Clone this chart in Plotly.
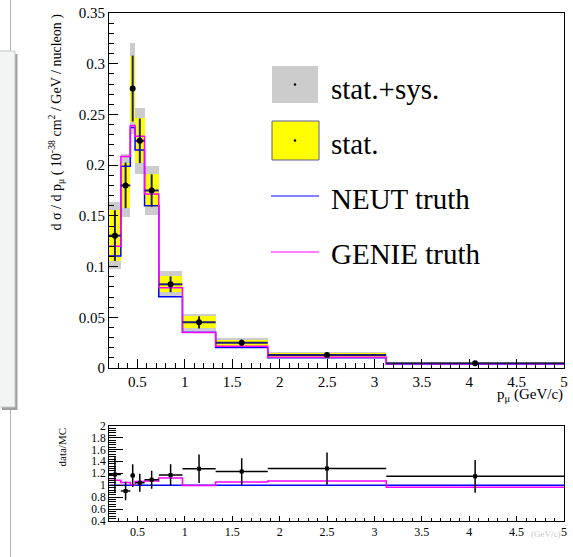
import plotly.graph_objects as go

# ---- measurement: d sigma / d p_mu, binned in muon momentum (GeV/c) ----
bin_edges = [0.2, 0.325, 0.425, 0.475, 0.575, 0.725, 0.975, 1.325, 1.875, 3.125, 5.0]
data_xsec = [0.1305, 0.180, 0.2755, 0.224, 0.175, 0.0825, 0.045, 0.025, 0.0128, 0.0046]
stat_err = [0.025, 0.0225, 0.0325, 0.022, 0.016, 0.0078, 0.006, 0.003, 0.0018, 0.0006]
total_err = [0.033, 0.031, 0.045, 0.0325, 0.0243, 0.0127, 0.0084, 0.0045, 0.0027, 0.0011]

# ---- generator predictions ----
neut_xsec = [0.1105, 0.199, 0.237, 0.215, 0.160, 0.0703, 0.0352, 0.0203, 0.0100, 0.0040]
genie_xsec = [0.120, 0.2084, 0.239, 0.2285, 0.1716, 0.079, 0.0350, 0.0214, 0.0107, 0.00387]

main_yticks = [0, 0.05, 0.1, 0.15, 0.2, 0.25, 0.3, 0.35]
ratio_yticks = [0.4, 0.6, 0.8, 1.0, 1.2, 1.4, 1.6, 1.8, 2.0]
x_ticks = [0.5, 1, 1.5, 2, 2.5, 3, 3.5, 4, 4.5, 5]

legend_labels = ["stat.+sys.", "stat.", "NEUT truth", "GENIE truth"]

W, H = 573, 557
SERIF = "Liberation Serif, Times New Roman, serif"
NAVY = "#1c1c78"


def px(x):
    return x / W


def py(y):
    return 1 - y / H


centers = [(a + b) / 2 for a, b in zip(bin_edges[:-1], bin_edges[1:])]
widths = [b - a for a, b in zip(bin_edges[:-1], bin_edges[1:])]
half_w = [w / 2 for w in widths]

ratio_data = [d / n for d, n in zip(data_xsec, neut_xsec)]
ratio_err = [e / n for e, n in zip(total_err, neut_xsec)]
ratio_neut = [n / n for n in neut_xsec]
ratio_genie = [g / n for g, n in zip(genie_xsec, neut_xsec)]

fig = go.Figure()

# stat.+sys. bands
fig.add_trace(go.Bar(
    x=centers, width=widths,
    base=[d - e for d, e in zip(data_xsec, total_err)],
    y=[2 * e for e in total_err],
    marker=dict(color="#cccccc", line=dict(width=0)),
    xaxis="x", yaxis="y", showlegend=False, hoverinfo="skip"))

# stat. bands
fig.add_trace(go.Bar(
    x=centers, width=widths,
    base=[d - e for d, e in zip(data_xsec, stat_err)],
    y=[2 * e for e in stat_err],
    marker=dict(color="#ffff00", line=dict(width=0)),
    xaxis="x", yaxis="y", showlegend=False, hoverinfo="skip"))

# NEUT / GENIE step histograms
fig.add_trace(go.Scatter(
    x=bin_edges, y=neut_xsec + [neut_xsec[-1]], mode="lines",
    line=dict(color="#0000ff", width=1.5, shape="hv"),
    xaxis="x", yaxis="y", showlegend=False, hoverinfo="skip"))
fig.add_trace(go.Scatter(
    x=bin_edges, y=genie_xsec + [genie_xsec[-1]], mode="lines",
    line=dict(color="#ff00ff", width=1.5, shape="hv"),
    xaxis="x", yaxis="y", showlegend=False, hoverinfo="skip"))

# data points with stat. error bars
fig.add_trace(go.Scatter(
    x=centers, y=data_xsec, mode="markers",
    marker=dict(color="black", size=6, symbol="circle"),
    error_x=dict(type="data", array=half_w, color=NAVY, thickness=2, width=0),
    error_y=dict(type="data", array=stat_err, color=NAVY, thickness=2, width=0),
    xaxis="x", yaxis="y", showlegend=False, hoverinfo="skip"))

# ---- ratio panel ----
fig.add_trace(go.Scatter(
    x=bin_edges, y=ratio_neut + [ratio_neut[-1]], mode="lines",
    line=dict(color="#0000ff", width=1.5, shape="hv"),
    xaxis="x2", yaxis="y2", showlegend=False, hoverinfo="skip"))
fig.add_trace(go.Scatter(
    x=bin_edges, y=ratio_genie + [ratio_genie[-1]], mode="lines",
    line=dict(color="#ff00ff", width=1.5, shape="hv"),
    xaxis="x2", yaxis="y2", showlegend=False, hoverinfo="skip"))
fig.add_trace(go.Scatter(
    x=centers, y=ratio_data, mode="markers",
    marker=dict(color="black", size=4, symbol="square"),
    error_x=dict(type="data", array=half_w, color="black", thickness=1.5, width=0),
    error_y=dict(type="data", array=ratio_err, color="black", thickness=1.5, width=0),
    xaxis="x2", yaxis="y2", showlegend=False, hoverinfo="skip"))

axis_common = dict(showline=True, linecolor="black", linewidth=1, mirror=True,
                   showgrid=False, zeroline=False, ticks="inside", tickcolor="black",
                   automargin=False)

fig.update_layout(
    width=W, height=H,
    margin=dict(l=0, r=0, t=0, b=0, pad=0, autoexpand=False),
    paper_bgcolor="white", plot_bgcolor="white",
    barmode="overlay", bargap=0,
    font=dict(family=SERIF, color="black"),
    xaxis=dict(domain=[px(109), px(564)], anchor="y", range=[0.2, 5],
               tickvals=x_ticks, ticklen=9, tickwidth=1,
               tickfont=dict(family=SERIF, size=15),
               minor=dict(dtick=0.1, tick0=0, ticks="inside", ticklen=5,
                          tickcolor="black"),
               **axis_common),
    yaxis=dict(domain=[py(368), py(13)], anchor="x", range=[0, 0.35],
               tickvals=main_yticks, ticklen=9, tickwidth=1,
               tickfont=dict(family=SERIF, size=15),
               minor=dict(dtick=0.01, tick0=0, ticks="inside", ticklen=5,
                          tickcolor="black"),
               **axis_common),
    xaxis2=dict(domain=[px(109), px(564)], anchor="y2", range=[0.2, 5],
                tickvals=x_ticks, ticklen=5, tickwidth=1,
                tickfont=dict(family=SERIF, size=12),
                minor=dict(dtick=0.1, tick0=0, ticks="inside", ticklen=3,
                           tickcolor="black"),
                **axis_common),
    yaxis2=dict(domain=[py(521), py(425.7)], anchor="x2", range=[0.4, 2.0],
                tickvals=ratio_yticks, ticklen=14, tickwidth=1,
                tickfont=dict(family=SERIF, size=11.5),
                minor=dict(dtick=0.04, tick0=0, ticks="inside", ticklen=7,
                           tickcolor="black"),
                **axis_common),
)

shapes = []
# window edge on the left side of the canvas
shapes.append(dict(type="line", xref="paper", yref="paper",
                   x0=px(10.5), x1=px(10.5), y0=0, y1=1,
                   line=dict(color="#b4b4b4", width=1), layer="above"))
shapes.append(dict(type="rect", xref="paper", yref="paper",
                   x0=px(2), x1=px(17.5), y0=py(410), y1=py(54),
                   fillcolor="#a0a0a0", line=dict(width=0), layer="above"))
shapes.append(dict(type="rect", xref="paper", yref="paper",
                   x0=px(-3), x1=px(15), y0=py(407), y1=py(51),
                   fillcolor="#f3f5f4", line=dict(color="#c6c6c6", width=1),
                   layer="above"))

# legend swatches
shapes.append(dict(type="rect", xref="paper", yref="paper",
                   x0=px(272), x1=px(318), y0=py(103), y1=py(66),
                   fillcolor="#cccccc", line=dict(width=0), layer="above"))
shapes.append(dict(type="rect", xref="paper", yref="paper",
                   x0=px(272), x1=px(319), y0=py(160), y1=py(121),
                   fillcolor="#ffff00", line=dict(color="#5a5a9a", width=1),
                   layer="above"))
for cy in (84.5, 140.5):
    shapes.append(dict(type="circle", xref="paper", yref="paper",
                       x0=px(293.7), x1=px(296.3), y0=py(cy + 1.3), y1=py(cy - 1.3),
                       fillcolor="black", line=dict(width=0), layer="above"))
shapes.append(dict(type="line", xref="paper", yref="paper",
                   x0=px(271), x1=px(319), y0=py(196), y1=py(196),
                   line=dict(color="#0000ff", width=1.2), layer="above"))
shapes.append(dict(type="line", xref="paper", yref="paper",
                   x0=px(271), x1=px(319), y0=py(252), y1=py(252),
                   line=dict(color="#ff00ff", width=1.2), layer="above"))

annotations = []
for label, cy in zip(legend_labels, (88.5, 143.5, 198.5, 254.5)):
    annotations.append(dict(text=label, xref="paper", yref="paper",
                            x=px(329), y=py(cy), xanchor="left", yanchor="middle",
                            showarrow=False, font=dict(family=SERIF, size=29, color="black")))

annotations.append(dict(
    text="d σ / d p<sub>μ</sub> ( 10<sup>-38</sup> cm<sup>2</sup> / GeV / nucleon )",
    xref="paper", yref="paper", x=px(56), y=py(12), xanchor="center", yanchor="top",
    textangle=-90, showarrow=False, font=dict(family=SERIF, size=14, color="black")))
annotations.append(dict(
    text="data/MC", xref="paper", yref="paper", x=px(61), y=py(426),
    xanchor="center", yanchor="top", textangle=-90, showarrow=False,
    font=dict(family=SERIF, size=11, color="black")))
annotations.append(dict(
    text="p<sub>μ</sub> (GeV/c)", xref="paper", yref="paper", x=px(565), y=py(395),
    xanchor="right", yanchor="middle", showarrow=False,
    font=dict(family=SERIF, size=15, color="black")))
annotations.append(dict(
    text="(GeV/c)", xref="paper", yref="paper", x=px(562), y=py(534),
    xanchor="right", yanchor="middle", showarrow=False,
    font=dict(family=SERIF, size=9, color="#c8c8c8")))

fig.update_layout(shapes=shapes, annotations=annotations)

fig.write_html("out.html")
